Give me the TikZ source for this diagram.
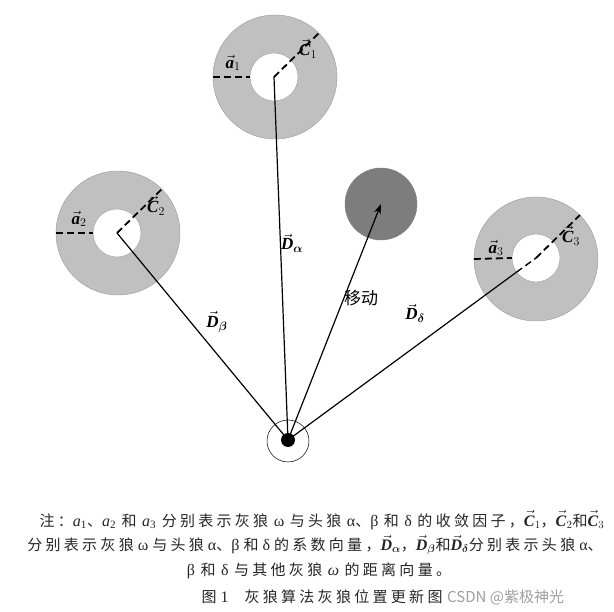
\documentclass[tikz,border=0pt]{standalone}
\usepackage{amsmath}
\usepackage{fontspec}
\setmainfont{Liberation Serif}
\newfontfamily\cjk{Noto Sans CJK SC}
\newfontfamily\cjkcap[LetterSpace=22]{Noto Sans CJK SC}
\usetikzlibrary{arrows.meta}
\definecolor{ringgray}{RGB}{192,192,192}
\definecolor{movegray}{RGB}{125,125,125}
\newcommand\zh[1]{{\cjkcap\fontsize{15}{17}\selectfont #1}}
\newcommand\gsp{\hspace{5.5pt}}
\newcommand\lvec[2]{$\vec{\textbf{\textit{#1}}}_{#2}$}
\newcommand\lvecb[2]{$\vec{\textbf{\textit{#1}}}_{\boldsymbol{#2}}$}
\begin{document}
\begin{tikzpicture}[x=1pt,y=-1pt,
  ring/.style={circle,fill=ringgray,draw=gray!80,line width=0.4pt,inner sep=0pt,minimum size=124pt},
  hole/.style={circle,fill=white,draw=gray!80,line width=0.4pt,inner sep=0pt,minimum size=48pt},
  dashline/.style={line width=1.8pt,dash pattern=on 7pt off 4pt},
  dline/.style={line width=1.2pt,black},
  lab/.style={inner sep=0pt,font=\fontsize{17}{19}\selectfont},
  captext/.style={inner sep=0pt,font=\fontsize{16}{18}\selectfont,text=black!85}
]
\fill[white] (0,0) rectangle (614,612);
\useasboundingbox (0,0) rectangle (614,612);

% rings
\node[ring] (o1) at (275,77) {};
\node[hole] (i1) at (274,77) {};
\node[ring] (o2) at (118,233) {};
\node[hole] (i2) at (117,233) {};
\node[ring] (o3) at (536,259) {};
\node[hole] (i3) at (536,258) {};
\node[circle,fill=movegray,draw=gray,inner sep=0pt,minimum size=72pt] (m) at (381,204) {};

% wolf
\node[circle,draw,line width=0.5pt,inner sep=0pt,minimum size=42pt] (wr) at (288,441) {};
\node[circle,fill=black,inner sep=0pt,minimum size=14pt] (w) at (288,440) {};

% dashed radii
\draw[dashline] (o1.west) -- (i1.west);
\draw[dashline] (i1.center) -- (o1.45);
\draw[dashline] (o2.west) -- (i2.west);
\draw[dashline] (i2.center) -- (o2.45);
\draw[dashline] (o3.west) -- (i3.west);
\draw[dashline] (i3.center) -- (o3.45);

% distance lines
\draw[dline] (w.center) -- (i1.center);
\draw[dline] (w.center) -- (i2.center);
\draw[dline] (w.center) -- (i3.216);
\draw[dashline,line width=1.4pt] (i3.216) -- (i3.center);
\draw[dline,-{Stealth[length=10pt,width=7pt]}] (w.center) -- (m.center);

% labels
\node[lab] (la1) at (233,63) {\lvec{a}{1}};
\node[lab] (lc1) at (308,49) {\lvec{C}{1}};
\node[lab] (la2) at (79,219) {\lvec{a}{2}};
\node[lab] (lc2) at (156,206) {\lvec{C}{2}};
\node[lab] (la3) at (496,248) {\lvec{a}{3}};
\node[lab] (lc3) at (571,236) {\lvec{C}{3}};
\node[lab] (lda) at (292,243) {\lvecb{D}{\alpha}};
\node[lab] (ldb) at (217,322) {\lvecb{D}{\beta}};
\node[lab] (ldd) at (415,313) {\lvecb{D}{\delta}};
\node[inner sep=0pt,font=\cjk\fontsize{17}{19}\selectfont] (mv) at (361,298) {移动};

% caption
\node[captext] (c1) at (322,520) {\zh{注：}\textit{a}\textsubscript{1}\zh{、}\textit{a}\textsubscript{2}\gsp\zh{和}\gsp\textit{a}\textsubscript{3}\gsp\zh{分别表示灰狼}\gsp ω\gsp\zh{与头狼}\gsp α\zh{、}β\gsp\zh{和}\gsp δ\gsp\zh{的收敛因子，}\lvec{C}{1}\zh{，}\lvec{C}{2}\zh{和}\lvec{C}{3}};
\node[captext] (c2) at (315,545) {\zh{分别表示灰狼} ω \zh{与头狼} α\zh{、}β \zh{和} δ \zh{的系数向量，}\lvecb{D}{\alpha}\zh{，}\lvecb{D}{\beta}\zh{和}\lvecb{D}{\delta}\zh{分别表示头狼} α\zh{、}};
\node[captext] (c3) at (319,571) {β\gsp\zh{和}\gsp δ\gsp\zh{与其他灰狼}\gsp\textit{ω}\gsp\zh{的距离向量。}};
\node[captext] (c4) at (322,597) {\zh{图} 1\quad\zh{灰狼算法灰狼位置更新图}};
\node[inner sep=0pt,font=\cjk\fontsize{15}{17}\selectfont,text=gray!75,anchor=west] (wm) at (447,597) {CSDN @紫极神光};
\end{tikzpicture}
\end{document}
